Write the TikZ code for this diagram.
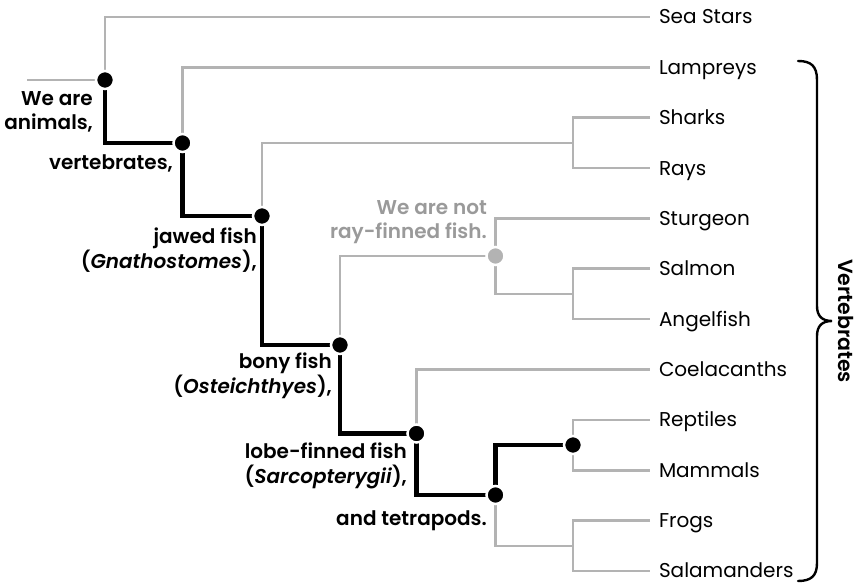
\documentclass[tikz,border=0pt]{standalone}
\usepackage{fontspec}
\setmainfont{Poppins}[BoldFont={Poppins SemiBold}, BoldItalicFont={Poppins SemiBold Italic}]
\usetikzlibrary{backgrounds}
\definecolor{lgray}{HTML}{B3B3B3}
\definecolor{tgray}{HTML}{9A9A9A}
\begin{document}
\begin{tikzpicture}[x=1pt,y=-1pt,
  leaf/.style={anchor=west, inner sep=0pt, outer xsep=9pt, text height=14pt, text depth=0pt, font=\fontsize{20}{24}\selectfont},
  dot/.style={circle, fill=black, draw=white, line width=2.5pt, minimum size=18pt, inner sep=0pt},
  graydot/.style={dot, fill=lgray},
  lbl/.style={align=right, inner sep=0pt, font=\fontsize{20}{24.5}\selectfont\bfseries},
  gline/.style={draw=lgray, line width=2.6pt},
  bline/.style={draw=black, line width=4.6pt},
  bracestyle/.style={draw=black, line width=2.4pt, line cap=round}
]
\useasboundingbox (0,0) rectangle (862,585);

% leaves
\node[leaf] (seastars) at (650,17) {Sea Stars};
\node[leaf] (lampreys) at (650,67.4) {Lampreys};
\node[leaf] (sharks) at (650,117.7) {Sharks};
\node[leaf] (rays) at (650,168.1) {Rays};
\node[leaf] (sturgeon) at (650,218.4) {Sturgeon};
\node[leaf] (salmon) at (650,268.8) {Salmon};
\node[leaf] (angelfish) at (650,319.1) {Angelfish};
\node[leaf] (coel) at (650,369.5) {Coelacanths};
\node[leaf] (reptiles) at (650,419.8) {Reptiles};
\node[leaf] (mammals) at (650,470.2) {Mammals};
\node[leaf] (frogs) at (650,520.5) {Frogs};
\node[leaf] (salam) at (650,570.9) {Salamanders};

% internal nodes
\node[dot] (root) at (105,80) {};
\node[dot] (vert) at (182.5,143) {};
\node[dot] (jawed) at (262,216) {};
\node[dot] (bony) at (340,345) {};
\node[dot] (lobe) at (416.5,433.5) {};
\node[dot] (tetra) at (495.5,495) {};
\node[dot] (amn) at (573,445) {};
\node[graydot] (ray) at (495.5,256) {};
\coordinate (stub) at (27,80);
\coordinate (sr) at (573,143);
\coordinate (sa) at (573,294);
\coordinate (fs) at (573,546);

\begin{scope}[on background layer]
  \draw[gline] (stub) -- (root.center);
  \draw[gline] (root.center) |- (seastars.west);
  \draw[gline] (vert.center) |- (lampreys.west);
  \draw[gline] (jawed.center) |- (sr);
  \draw[gline] (sharks.west) -| (sr) |- (rays.west);
  \draw[gline] (bony.center) |- (ray.center);
  \draw[gline] (ray.center) |- (sturgeon.west);
  \draw[gline] (ray.center) |- (sa);
  \draw[gline] (salmon.west) -| (sa) |- (angelfish.west);
  \draw[gline] (lobe.center) |- (coel.west);
  \draw[gline] (tetra.center) |- (fs);
  \draw[gline] (frogs.west) -| (fs) |- (salam.west);
  \draw[gline] (reptiles.west) -| (amn.center) |- (mammals.west);
  \draw[bline] (root.center) |- (vert.center) |- (jawed.center) |- (bony.center)
     |- (lobe.center) |- (tetra.center) |- (amn.center);
\end{scope}

% labels
\node[lbl, anchor=east] (l1) at (93,112) {We are\\animals,};
\node[lbl, anchor=base east] (l2) at (173,170) {vertebrates,};
\node[lbl, anchor=east] (l3) at (257,250) {jawed fish\\(\textit{Gnathostomes}),};
\node[lbl, anchor=east] (l4) at (332,376) {bony fish\\(\textit{Osteichthyes}),};
\node[lbl, anchor=east] (l5) at (407,466) {lobe-finned fish\\(\textit{Sarcopterygii}),};
\node[lbl, anchor=base east] (l6) at (487,525) {and tetrapods.};
\node[lbl, anchor=east, text=tgray] (l7) at (487,222) {We are not\\ray-finned fish.};

% brace
\draw[bracestyle] (798,61) .. controls (811,61) and (817,66) .. (817,80) -- (817,306)
  .. controls (817,316) and (822,321) .. (832,321)
  .. controls (822,321) and (817,326) .. (817,336) -- (817,563)
  .. controls (817,576) and (811,581) .. (798,581);
\node[rotate=-90, inner sep=0pt, font=\fontsize{20.5}{24}\selectfont\bfseries] (vlabel) at (846,321) {Vertebrates};
\end{tikzpicture}
\end{document}
